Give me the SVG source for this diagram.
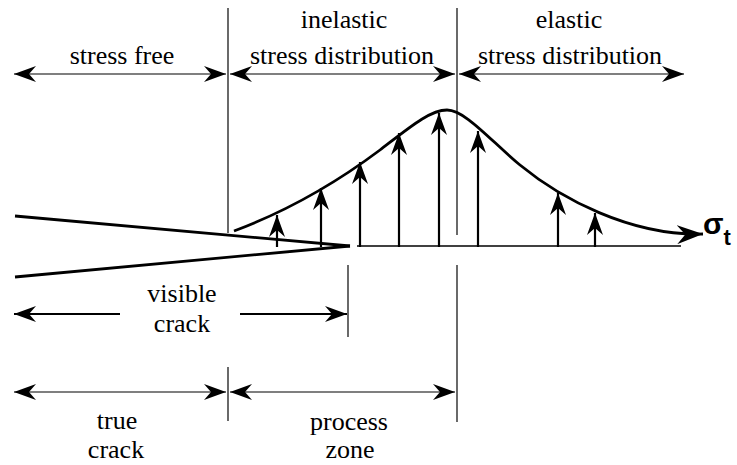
<svg xmlns="http://www.w3.org/2000/svg" width="737" height="465" viewBox="0 0 737 465">
<style>
.sep{stroke:#444;stroke-width:1.6;fill:none}
.dim{stroke:#000;stroke-width:1.2;fill:none}
.dimb{stroke:#000;stroke-width:2;fill:none}
.crack{stroke:#000;stroke-width:2.8;fill:none}
.force{stroke:#000;stroke-width:2.2;fill:none}
</style>
<defs>
<marker id="ah" viewBox="0 0 22 16" refX="22" refY="8" markerWidth="22" markerHeight="16" markerUnits="userSpaceOnUse" orient="auto-start-reverse">
<path d="M0,0 L22,8 L0,16 L7,8 Z" fill="#000"/>
</marker>
<marker id="ahc" viewBox="0 0 22 16" refX="22" refY="8" markerWidth="26" markerHeight="19" markerUnits="userSpaceOnUse" orient="auto">
<path d="M0,0 L22,8 L0,16 L7,8 Z" fill="#000"/>
</marker>
</defs>
<g id="separators">
<line class="sep" x1="228" y1="8" x2="228" y2="233"/>
<line class="sep" x1="228" y1="367" x2="228" y2="421"/>
<line class="sep" x1="457" y1="8" x2="457" y2="235"/>
<line class="sep" x1="457" y1="265" x2="457" y2="422"/>
<line class="sep" x1="348" y1="265" x2="348" y2="337"/>
</g>
<g id="crack">
<line class="crack" x1="15" y1="216" x2="350" y2="246"/>
<line class="crack" x1="15" y1="277" x2="350" y2="246"/>
</g>
<g id="stress-curve">
<line x1="357" y1="246" x2="681" y2="246" stroke="#000" stroke-width="1.6"/>
<path class="crack" d="M234,231 C290,210 340,180 380,150 C410,127 430,110 447,110 C465,110 490,140 520,165 C560,198 630,236 703,234" stroke-width="2.6" marker-end="url(#ahc)"/>
</g>
<g id="force-arrows">
<line class="force" x1="277" y1="247" x2="277" y2="215" marker-end="url(#ah)"/>
<line class="force" x1="321" y1="247" x2="321" y2="188" marker-end="url(#ah)"/>
<line class="force" x1="360" y1="247" x2="360" y2="162" marker-end="url(#ah)"/>
<line class="force" x1="399" y1="247" x2="399" y2="133" marker-end="url(#ah)"/>
<line class="force" x1="439" y1="247" x2="439" y2="113" marker-end="url(#ah)"/>
<line class="force" x1="478" y1="247" x2="478" y2="131" marker-end="url(#ah)"/>
<line class="force" x1="558" y1="247" x2="558" y2="193" marker-end="url(#ah)"/>
<line class="force" x1="595" y1="247" x2="595" y2="213" marker-end="url(#ah)"/>
</g>
<g id="connectors">
<line class="dim" x1="14" y1="74" x2="226" y2="74" marker-start="url(#ah)" marker-end="url(#ah)"/>
<line class="dim" x1="230" y1="74" x2="455" y2="74" marker-start="url(#ah)" marker-end="url(#ah)"/>
<line class="dim" x1="459" y1="74" x2="684" y2="74" marker-start="url(#ah)" marker-end="url(#ah)"/>
<line class="dimb" x1="14" y1="314" x2="120" y2="314" marker-start="url(#ah)"/>
<line class="dimb" x1="240" y1="314" x2="347" y2="314" marker-end="url(#ah)"/>
<line class="dim" x1="14" y1="392" x2="226" y2="392" marker-start="url(#ah)" marker-end="url(#ah)"/>
<line class="dim" x1="230" y1="392" x2="455" y2="392" marker-start="url(#ah)" marker-end="url(#ah)"/>
</g>
<g font-family="'Liberation Serif', 'Times New Roman', Tinos, 'DejaVu Serif', serif" font-size="26" fill="#000" text-anchor="middle">
<g id="label-stress-free"><text x="122" y="64">stress free</text></g>
<g id="label-inelastic"><text x="344" y="28">inelastic</text><text x="342" y="64">stress distribution</text></g>
<g id="label-elastic"><text x="569" y="28">elastic</text><text x="570" y="64">stress distribution</text></g>
<g id="label-visible-crack"><text x="182" y="302">visible</text><text x="182" y="332">crack</text></g>
<g id="label-true-crack"><text x="117" y="429">true</text><text x="116" y="458">crack</text></g>
<g id="label-process-zone"><text x="349" y="430">process</text><text x="350" y="458">zone</text></g>
</g>
<g id="label-sigma"><text x="703" y="234" font-family="'Liberation Sans', Arial, sans-serif" font-weight="bold" font-size="30">σ<tspan font-size="22" dy="11">t</tspan></text></g>
</svg>
